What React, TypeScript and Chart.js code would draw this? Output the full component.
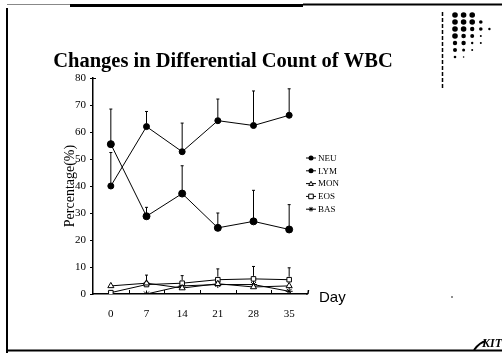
import React, { useEffect, useRef } from "react";
import { Chart, registerables } from "chart.js";

Chart.register(...registerables);

const days = ["0", "7", "14", "21", "28", "35"];
const seriesNames = ["NEU", "LYM", "MON", "EOS", "BAS"];
const neu = [55.5, 28.8, 37.2, 24.5, 26.9, 23.9];
const neuErr = [13, 3.3, 10.3, 5.5, 11.5, 9.2];
const lym = [40, 62, 52.7, 64.2, 62.4, 66.2];
const lymErr = [12.4, 5.6, 10.6, 8, 12.8, 9.8];
const mon = [3, 4, 2.2, 3.8, 2.6, 3];
const eos = [0.5, 3.5, 4, 5.3, 5.6, 5.3];
const eosErr = [0, 3.5, 2.8, 4, 4.6, 4.4];
const bas = [0, 0, 3, 3.5, 3.5, 1];
const yMin = 0;
const yMax = 80;
const yStep = 10;

const SERIF = "'Liberation Serif', 'Times New Roman', serif";
const SANS = "'Liberation Sans', Arial, sans-serif";

function drawMarker(ctx: CanvasRenderingContext2D, style: string, x: number, y: number, r: number) {
  ctx.save();
  ctx.strokeStyle = "#000";
  ctx.lineWidth = 1;
  ctx.beginPath();
  if (style === "circle") {
    ctx.fillStyle = "#000";
    ctx.arc(x, y, r, 0, Math.PI * 2);
    ctx.fill();
  } else if (style === "triangle") {
    ctx.fillStyle = "#fff";
    ctx.moveTo(x, y - r);
    ctx.lineTo(x + r, y + r * 0.8);
    ctx.lineTo(x - r, y + r * 0.8);
    ctx.closePath();
    ctx.fill();
    ctx.stroke();
  } else if (style === "rect") {
    ctx.fillStyle = "#fff";
    ctx.rect(x - r, y - r, 2 * r, 2 * r);
    ctx.fill();
    ctx.stroke();
  } else {
    for (let i = 0; i < 4; i++) {
      const a = (Math.PI / 4) * i;
      ctx.moveTo(x - Math.cos(a) * r, y - Math.sin(a) * r);
      ctx.lineTo(x + Math.cos(a) * r, y + Math.sin(a) * r);
    }
    ctx.stroke();
  }
  ctx.restore();
}

const errorBars = {
  id: "errorBars",
  afterDatasetsDraw(chart: any) {
    const ctx = chart.ctx;
    const ys = chart.scales.y;
    chart.data.datasets.forEach((ds: any, di: number) => {
      if (!ds.errors) return;
      const meta = chart.getDatasetMeta(di);
      meta.data.forEach((el: any, i: number) => {
        const e = ds.errors[i];
        if (!e) return;
        const top = ys.getPixelForValue(ds.data[i] + e);
        ctx.save();
        ctx.strokeStyle = "#000";
        ctx.lineWidth = 1;
        ctx.beginPath();
        ctx.moveTo(el.x, el.y - 3);
        ctx.lineTo(el.x, top);
        ctx.moveTo(el.x - 1.5, top);
        ctx.lineTo(el.x + 1.5, top);
        ctx.stroke();
        ctx.restore();
      });
    });
  },
};

const legendMarkers = ["circle", "circle", "triangle", "rect", "star"];

const decor = {
  id: "decor",
  beforeDraw(chart: any) {
    const ctx = chart.ctx;
    ctx.save();
    ctx.fillStyle = "#fff";
    ctx.fillRect(0, 0, chart.width, chart.height);
    ctx.restore();
  },
  afterDraw(chart: any) {
    const ctx = chart.ctx;
    const a = chart.chartArea;
    const xs = chart.scales.x;
    ctx.save();
    // frame
    ctx.strokeStyle = "#888";
    ctx.lineWidth = 1;
    ctx.beginPath();
    ctx.moveTo(7, 4.5);
    ctx.lineTo(70, 4.5);
    ctx.stroke();
    ctx.strokeStyle = "#000";
    ctx.lineWidth = 3;
    ctx.beginPath();
    ctx.moveTo(70, 5.5);
    ctx.lineTo(303, 5.5);
    ctx.stroke();
    ctx.lineWidth = 2;
    ctx.beginPath();
    ctx.moveTo(303, 4.5);
    ctx.lineTo(502, 4.5);
    ctx.stroke();
    ctx.beginPath();
    ctx.moveTo(7, 8);
    ctx.lineTo(7, 353);
    ctx.stroke();
    ctx.beginPath();
    ctx.moveTo(7, 350.5);
    ctx.lineTo(502, 350.5);
    ctx.stroke();
    // dashed divider
    ctx.lineWidth = 1.5;
    ctx.setLineDash([4, 2]);
    ctx.beginPath();
    ctx.moveTo(442.5, 12);
    ctx.lineTo(442.5, 90);
    ctx.stroke();
    ctx.setLineDash([]);
    // dot logo
    const rows: number[][] = [
      [2.8, 2.8, 2.8],
      [2.8, 2.8, 2.8, 1.8],
      [2.8, 2.8, 2.2, 1.8, 1.2],
      [2.8, 2.3, 2, 1],
      [2.2, 2.2, 1.2, 1],
      [2, 1.5, 1],
      [1.3, 0.8],
    ];
    ctx.fillStyle = "#000";
    rows.forEach((row, ri) => {
      row.forEach((r, ci) => {
        ctx.beginPath();
        ctx.arc(455 + ci * 8.6, 15 + ri * 7, r, 0, Math.PI * 2);
        ctx.fill();
      });
    });
    // small dot
    ctx.beginPath();
    ctx.arc(452, 297, 0.8, 0, Math.PI * 2);
    ctx.fill();
    // KIT logo
    ctx.lineWidth = 2;
    ctx.beginPath();
    ctx.moveTo(474, 350);
    ctx.quadraticCurveTo(480, 342, 486, 341);
    ctx.stroke();
    ctx.font = `bold italic 12px ${SERIF}`;
    ctx.textAlign = "left";
    ctx.textBaseline = "alphabetic";
    ctx.fillText("KIT", 482, 347);
    // title
    ctx.font = `bold 20.5px ${SERIF}`;
    ctx.textAlign = "center";
    ctx.fillText("Changes in Differential Count of WBC", 223, 67);
    // x axis end curl
    ctx.lineWidth = 1.5;
    ctx.beginPath();
    ctx.moveTo(a.right - 1, a.bottom);
    ctx.lineTo(a.right + 1, a.bottom - 0.5);
    ctx.lineTo(a.right + 1.5, a.bottom - 4);
    ctx.stroke();
    // inward x tick marks at category boundaries
    ctx.lineWidth = 1;
    const half = (xs.getPixelForValue(1) - xs.getPixelForValue(0)) / 2;
    for (let i = 0; i < days.length - 1; i++) {
      const x = Math.round(xs.getPixelForValue(i) + half) + 0.5;
      ctx.beginPath();
      ctx.moveTo(x, a.bottom);
      ctx.lineTo(x, a.bottom - 4);
      ctx.stroke();
    }
    // small top cap on y axis
    ctx.beginPath();
    ctx.moveTo(a.left, a.top + 0.5);
    ctx.lineTo(a.left + 3, a.top + 0.5);
    ctx.stroke();
    // Day label
    ctx.font = `15px ${SANS}`;
    ctx.textAlign = "left";
    ctx.textBaseline = "middle";
    ctx.fillText("Day", a.right + 12, a.bottom + 4);
    // legend
    ctx.font = `9px ${SERIF}`;
    seriesNames.forEach((name, i) => {
      const y = a.top + 80 + i * 12.8;
      const x0 = a.right - 1;
      ctx.lineWidth = 1;
      ctx.beginPath();
      ctx.moveTo(x0, y);
      ctx.lineTo(x0 + 10, y);
      ctx.stroke();
      drawMarker(ctx, legendMarkers[i], x0 + 5, y, i < 2 ? 2.5 : 2.3);
      ctx.fillStyle = "#000";
      ctx.fillText(name, x0 + 12, y + 0.5);
    });
    ctx.restore();
  },
};

export default function App() {
  const ref = useRef<HTMLCanvasElement | null>(null);
  useEffect(() => {
    if (!ref.current) return;
    const mk = (label: string, data: number[], style: string, r: number, errors?: number[]) => ({
      label,
      data,
      errors,
      borderColor: "#000",
      borderWidth: 1,
      backgroundColor: style === "circle" ? "#000" : "#fff",
      pointStyle: style,
      pointRadius: r,
      pointBorderColor: "#000",
      pointBorderWidth: 1,
      pointBackgroundColor: style === "circle" ? "#000" : "#fff",
      tension: 0,
      fill: false,
    });
    const chart = new Chart(ref.current, {
      type: "line",
      data: {
        labels: days,
        datasets: [
          mk(seriesNames[0], neu, "circle", 3.5, neuErr),
          mk(seriesNames[1], lym, "circle", 3, lymErr),
          mk(seriesNames[2], mon, "triangle", 3.5),
          mk(seriesNames[3], eos, "rect", 3.2, eosErr),
          mk(seriesNames[4], bas, "star", 3.5),
        ] as any,
      },
      options: {
        animation: false,
        responsive: false,
        maintainAspectRatio: false,
        layout: { padding: { left: 58, top: 78, right: 195, bottom: 0 } },
        plugins: { legend: { display: false }, tooltip: { enabled: false } },
        scales: {
          x: {
            type: "category",
            offset: true,
            grid: { display: false, drawTicks: false, offset: true },
            border: { display: true, color: "#000", width: 1.5 },
            ticks: { color: "#000", padding: 14, font: { family: SERIF, size: 11 } },
            afterFit: (s: any) => {
              s.height = 59;
            },
          },
          y: {
            min: yMin,
            max: yMax,
            grid: { drawOnChartArea: false, drawTicks: true, tickLength: 3, color: "#000" },
            border: { display: true, color: "#000", width: 1.5 },
            ticks: { stepSize: yStep, color: "#000", padding: 4, font: { family: SERIF, size: 11 } },
            title: {
              display: true,
              text: "Percentage(%)",
              color: "#000",
              font: { family: SERIF, size: 14 },
              padding: { top: 4, bottom: 0 },
            },
            afterFit: (s: any) => {
              s.width = 35;
            },
          },
        },
      } as any,
      plugins: [decor, errorBars],
    });
    return () => chart.destroy();
  }, []);
  return (
    <div style={{ position: "fixed", left: 0, top: 0, width: 502, height: 353, background: "#fff" }}>
      <canvas ref={ref} width={502} height={353} style={{ width: 502, height: 353, display: "block" }} />
    </div>
  );
}
